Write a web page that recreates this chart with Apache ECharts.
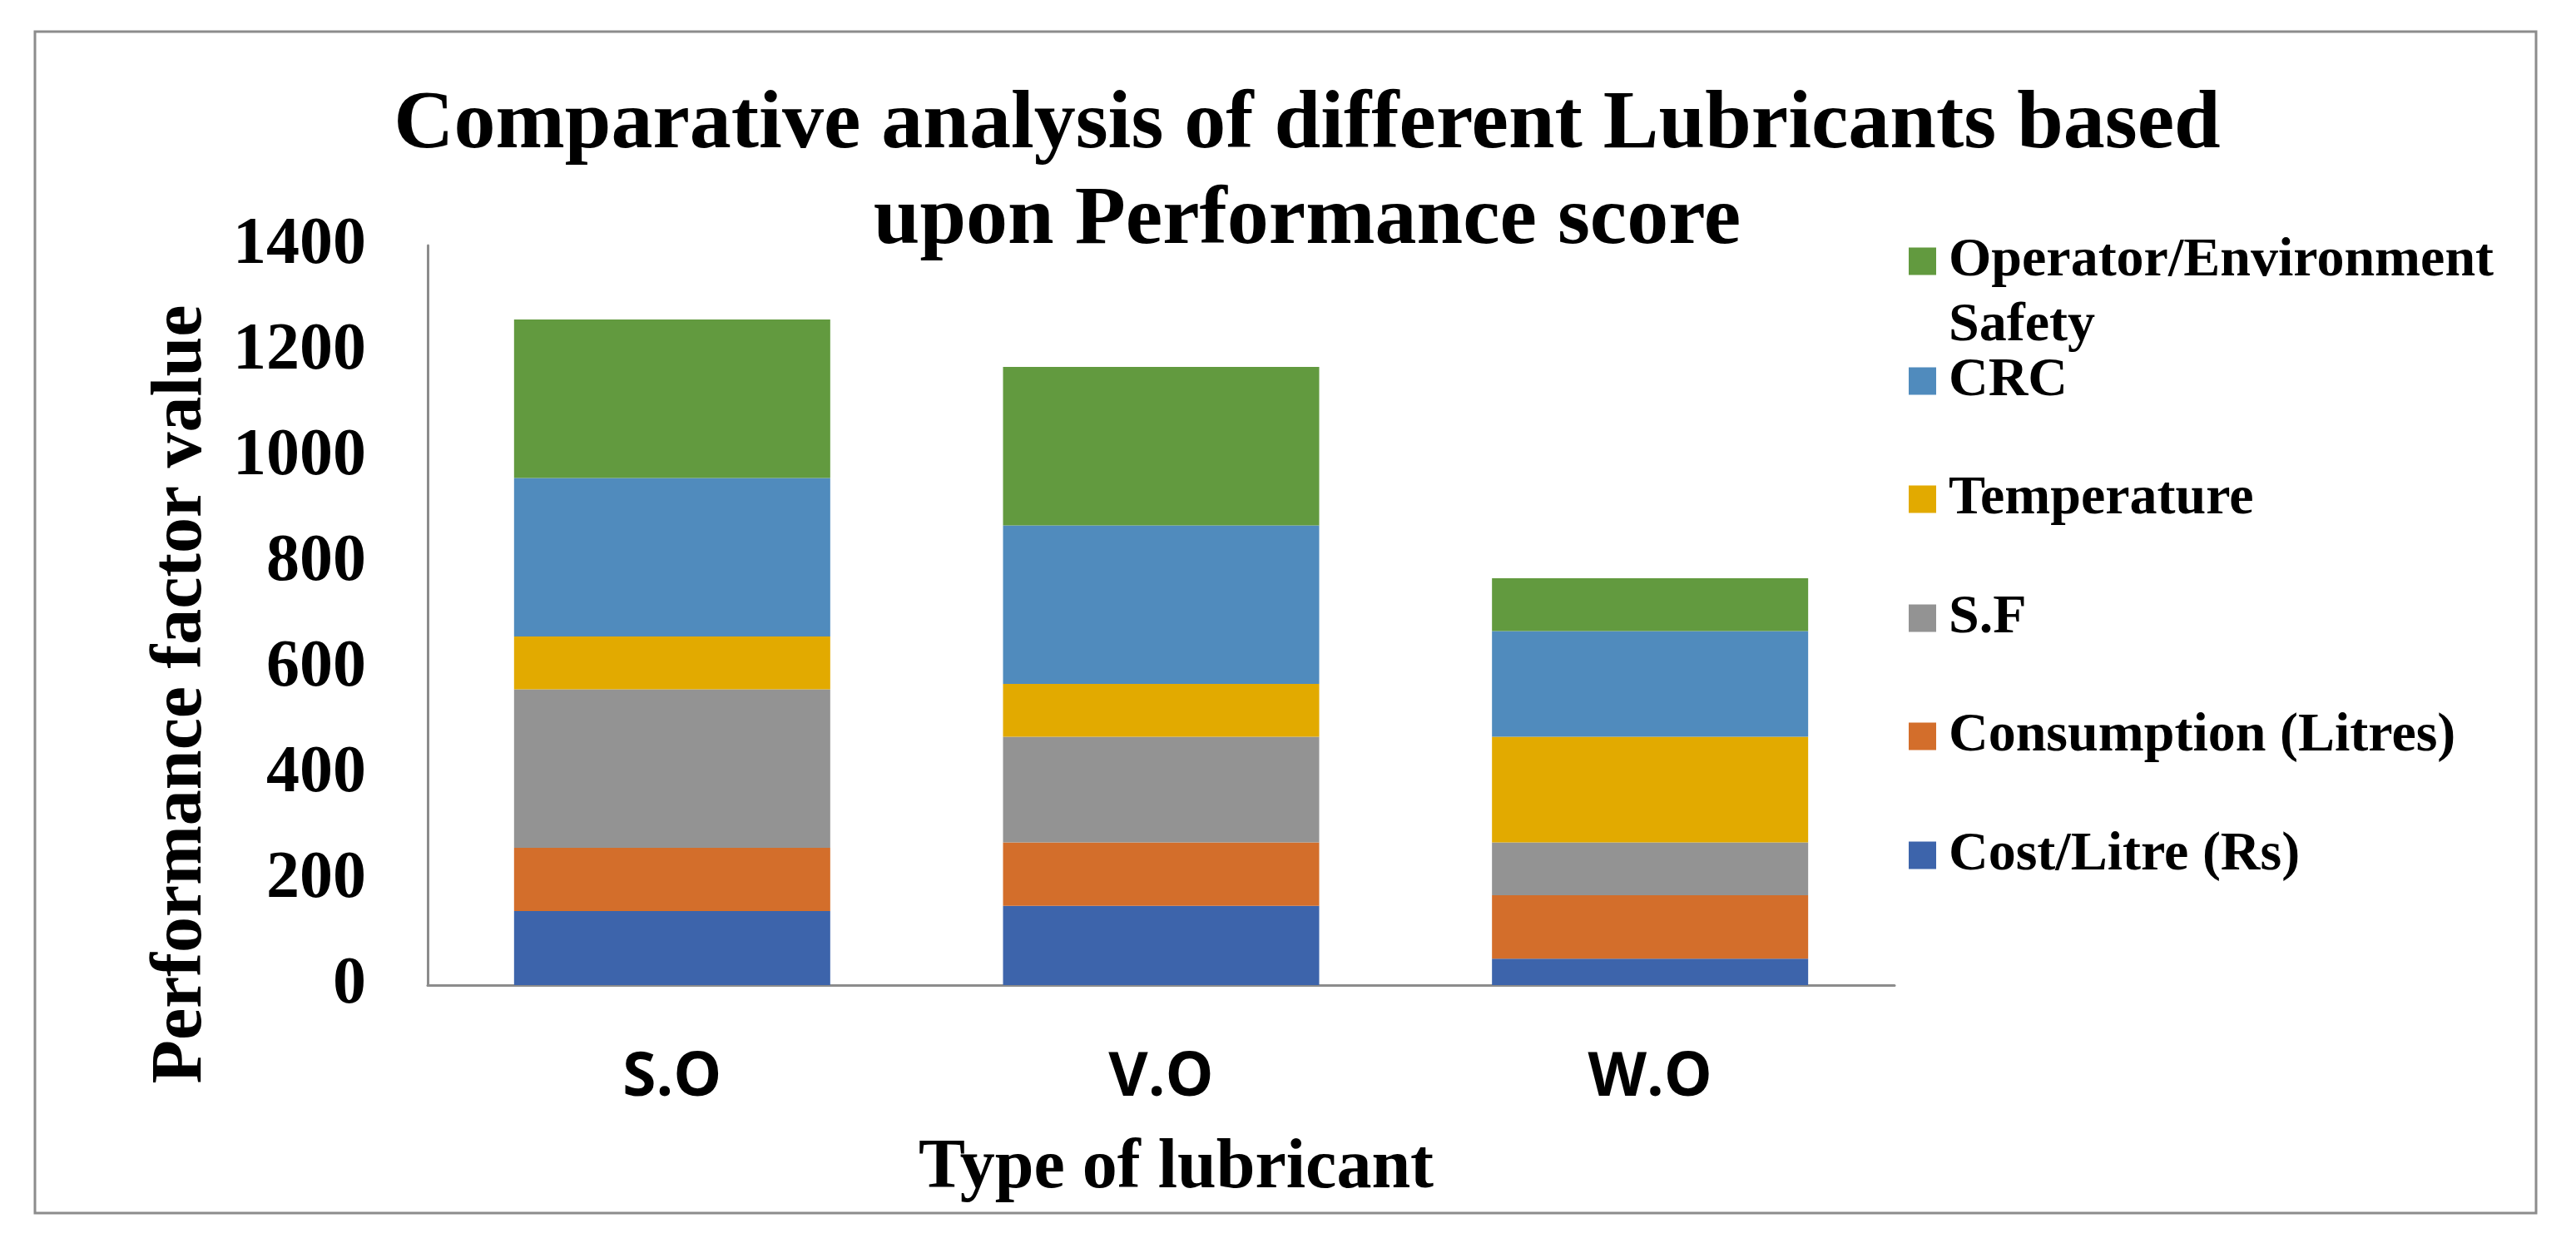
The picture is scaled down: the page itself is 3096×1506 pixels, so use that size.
<!DOCTYPE html>
<html>
<head>
<meta charset="utf-8">
<script src="https://cdn.jsdelivr.net/npm/echarts@6/dist/echarts.min.js"></script>
<style>
html,body{margin:0;padding:0;background:#fff;}
#chart{width:3096px;height:1506px;}
</style>
</head>
<body>
<div id="chart"></div>
<script>
// ---- data ----
const categories = ['S.O', 'V.O', 'W.O'];
const costLitre   = [140, 150, 50];
const consumption = [120, 120, 120];
const sf          = [300, 200, 100];
const temperature = [100, 100, 200];
const crc         = [300, 300, 200];
const safety      = [300, 300, 100];
const yTicks = { min: 0, max: 1400, interval: 200 };

const titleText = 'Comparative analysis of different Lubricants based\nupon Performance score';
const xName = 'Type of lubricant';
const yName = 'Performance factor value';

const seriesNames = ['Cost/Litre (Rs)', 'Consumption (Litres)', 'S.F', 'Temperature', 'CRC', 'Operator/Environment Safety'];
const seriesData = [costLitre, consumption, sf, temperature, crc, safety];
const colors = ['#3d64ab', '#d36e2b', '#939393', '#e2aa00', '#508bbd', '#629a3f'];

const serif = '"Liberation Serif", "Times New Roman", serif';
const gray = '#8c8c8c';

// legend items top-to-bottom with icon center y
const legendOrder = [5, 4, 3, 2, 1, 0];
const legendCenters = [312, 455, 597, 740, 882, 1025];

const legends = legendOrder.map((si, k) => {
  const isWrap = si === 5;
  return {
    orient: 'vertical',
    left: 2294,
    top: isWrap ? legendCenters[k] - 117 + 2 : legendCenters[k] - 39 + 3,
    padding: 0,
    itemWidth: 33,
    itemHeight: 33,
    icon: 'rect',
    selectedMode: false,
    data: [seriesNames[si]],
    formatter: isWrap ? function () { return '\nOperator/Environment\nSafety'; } : undefined,
    textStyle: {
      fontFamily: serif,
      fontWeight: 'bold',
      fontSize: 66,
      lineHeight: 78,
      color: '#000',
      padding: [0, 0, 0, 10]
    }
  };
});

const chart = echarts.init(document.getElementById('chart'), null, { renderer: 'canvas' });
chart.setOption({
  animation: false,
  backgroundColor: '#fff',
  color: colors,
  title: {
    text: titleText,
    left: 1571,
    textAlign: 'center',
    top: 94,
    padding: 0,
    textStyle: {
      fontFamily: serif,
      fontWeight: 'bold',
      fontSize: 100,
      lineHeight: 115,
      color: '#000'
    }
  },
  legend: legends,
  grid: { left: 514, right: 819, top: 295, bottom: 322, containLabel: false },
  xAxis: {
    type: 'category',
    data: categories,
    name: xName,
    nameLocation: 'middle',
    nameGap: 179,
    nameTextStyle: {
      fontFamily: serif, fontWeight: 'bold', fontSize: 84, lineHeight: 84, color: '#000',
      padding: [0, 0, 0, 36]
    },
    axisLine: { show: true, lineStyle: { color: gray, width: 3 } },
    axisTick: { show: false },
    axisLabel: {
      margin: 76,
      fontFamily: '"Open Sans", sans-serif',
      fontWeight: 'bold',
      fontSize: 73,
      lineHeight: 73,
      color: '#000'
    },
    splitLine: { show: false }
  },
  yAxis: {
    type: 'value',
    min: yTicks.min,
    max: yTicks.max,
    interval: yTicks.interval,
    name: yName,
    nameLocation: 'middle',
    nameGap: 252,
    nameTextStyle: {
      fontFamily: serif, fontWeight: 'bold', fontSize: 86, lineHeight: 86, color: '#000',
      padding: [0, 190, 0, 0]
    },
    axisLine: { show: true, lineStyle: { color: gray, width: 3 } },
    axisTick: { show: false },
    axisLabel: {
      margin: 74,
      fontFamily: serif,
      fontWeight: 'bold',
      fontSize: 80,
      color: '#000',
      formatter: function (v) { return String(v); }
    },
    splitLine: { show: false }
  },
  graphic: [{
    type: 'rect',
    shape: { x: 42, y: 38, width: 3006, height: 1420 },
    style: { fill: 'none', stroke: gray, lineWidth: 3 },
    silent: true,
    z: -10
  }],
  series: seriesNames.map((n, i) => ({
    name: n,
    type: 'bar',
    stack: 'total',
    barWidth: 380,
    data: seriesData[i],
    itemStyle: { color: colors[i] }
  }))
});
</script>
</body>
</html>
